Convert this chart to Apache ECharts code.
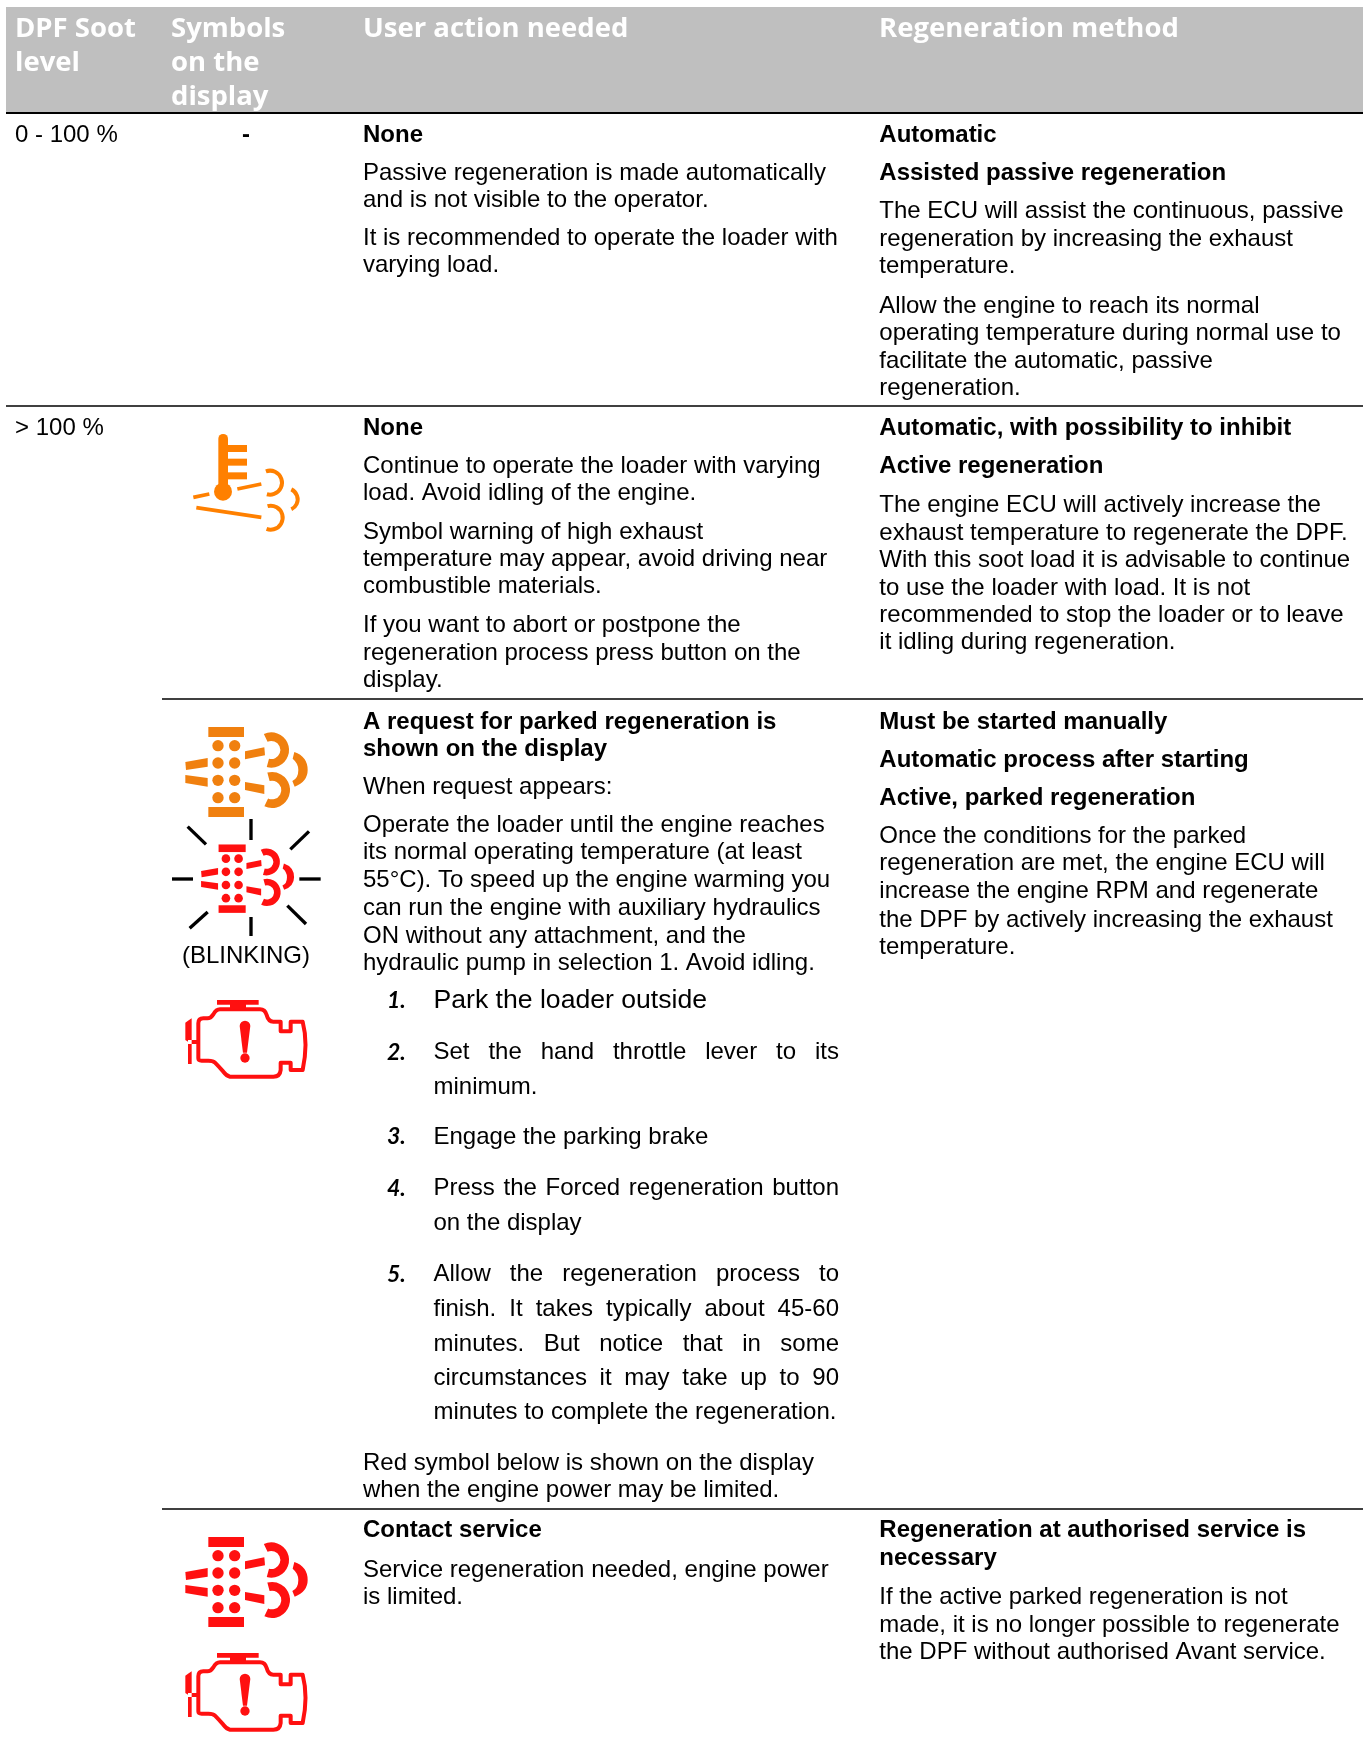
<!DOCTYPE html>
<html><head><meta charset="utf-8">
<style>html,body{margin:0;padding:0;background:#fff}#c{width:1363px;height:1763px}</style>
<script src="https://cdn.jsdelivr.net/npm/echarts@6/dist/echarts.min.js"></script>
</head><body><div id="c"></div>
<script>
// ---- table content ----
var headers = [['DPF Soot','level'],['Symbols','on the','display'],['User action needed'],['Regeneration method']];
var levels = ['0 - 100 %','> 100 %'];
var actionLines = ['None','Passive regeneration is made automatically','and is not visible to the operator.','It is recommended to operate the loader with','varying load.',
'None','Continue to operate the loader with varying','load. Avoid idling of the engine.','Symbol warning of high exhaust','temperature may appear, avoid driving near','combustible materials.','If you want to abort or postpone the','regeneration process press button on the','display.',
'A request for parked regeneration is','shown on the display','When request appears:','Operate the loader until the engine reaches','its normal operating temperature (at least','55°C). To speed up the engine warming you','can run the engine with auxiliary hydraulics','ON without any attachment, and the','hydraulic pump in selection 1. Avoid idling.',
'Red symbol below is shown on the display','when the engine power may be limited.',
'Contact service','Service regeneration needed, engine power','is limited.'];
var actionBold = ['None','A request for parked regeneration is','shown on the display','Contact service'];
var methodLines = ['Automatic','Assisted passive regeneration','The ECU will assist the continuous, passive','regeneration by increasing the exhaust','temperature.','Allow the engine to reach its normal','operating temperature during normal use to','facilitate the automatic, passive','regeneration.',
'Automatic, with possibility to inhibit','Active regeneration','The engine ECU will actively increase the','exhaust temperature to regenerate the DPF.','With this soot load it is advisable to continue','to use the loader with load. It is not','recommended to stop the loader or to leave','it idling during regeneration.',
'Must be started manually','Automatic process after starting','Active, parked regeneration','Once the conditions for the parked','regeneration are met, the engine ECU will','increase the engine RPM and regenerate','the DPF by actively increasing the exhaust','temperature.',
'Regeneration at authorised service is','necessary','If the active parked regeneration is not','made, it is no longer possible to regenerate','the DPF without authorised Avant service.'];
var methodBold = ['Automatic','Assisted passive regeneration','Automatic, with possibility to inhibit','Active regeneration','Must be started manually','Automatic process after starting','Active, parked regeneration','Regeneration at authorised service is','necessary'];
var stepLines = ['Park the loader outside','Set the hand throttle lever to its','minimum.','Engage the parking brake','Press the Forced regeneration button','on the display','Allow the regeneration process to','finish. It takes typically about 45-60','minutes. But notice that in some','circumstances it may take up to 90','minutes to complete the regeneration.'];
var stepNumbers = ['1.','2.','','3.','4.','','5.','','','',''];
var stepJustified = ['Set the hand throttle lever to its','Press the Forced regeneration button','Allow the regeneration process to','finish. It takes typically about 45-60','minutes. But notice that in some','circumstances it may take up to 90'];

// ---- layout (separate from content), in the 1212-wide preview's units ----
var K = 1363/1212, DY = 1.2;
var levelY = [119,380];
var actionY = [119,153,177,211,235,380,414,438,472,496,520,555,580,604,641,665,699,733,757,782,807,832,856,1300,1324,1360,1395,1419];
var methodY = [119,153,187,212,236,271,295,320,344,380,414,448,473,497,522,546,570,641,675,709,743,767,792,817,841,1360,1385,1419,1444,1468];
var stepY = [889,935,966,1010,1056,1087,1132,1163,1194,1225,1255];
var X0=15, XACT=363, XMETH=879.3, XNUM=387, XSTEP=433.5, XRIGHT=839;
var BODY='"Liberation Sans", Arial, sans-serif', HEAD='"Open Sans", sans-serif', FS=24;
var els = [];
var meas = document.createElement('canvas').getContext('2d');

function T(s,x,y,o){o=o||{};
  els.push({type:'text',x:x,y:y+DY,silent:true,z:5,style:{text:s,x:0,y:0,fill:o.fill||'#000',align:o.align||'left',verticalAlign:'middle',
    font:(o.style||'')+' '+(o.weight||'normal')+' '+(o.size||FS)+'px '+(o.family||BODY)}});
}
function justified(s,x,y,right){
  var words=s.split(' '); meas.font='normal '+FS+'px '+BODY;
  var w=words.map(function(a){return meas.measureText(a).width});
  var gap=(right-x-w.reduce(function(a,b){return a+b},0))/(words.length-1), cx=x;
  words.forEach(function(a,i){T(a,cx,y);cx+=w[i]+gap;});
}
// table frame
els.push({type:'rect',shape:{x:6,y:7,width:1357,height:105},style:{fill:'#bfbfbf'},z:1,silent:true});
[[6,113],[6,406],[162,699],[162,1509]].forEach(function(l){
  els.push({type:'line',shape:{x1:l[0],y1:l[1],x2:1363,y2:l[1]},style:{stroke:'#000',lineWidth:l[1]===113?2:1.6},z:2,silent:true});
});
// header
var headX=[15,171,363,879];
headers.forEach(function(h,c){h.forEach(function(s,i){T(s,headX[c],28+i*34,{fill:'#fff',weight:'bold',family:HEAD,size:27.5});});});
// body text
levels.forEach(function(s,i){T(s,X0,levelY[i]*K);});
T('-',246,119*K,{weight:'bold',align:'center'});
actionLines.forEach(function(s,i){T(s,XACT,actionY[i]*K,{weight:actionBold.indexOf(s)>=0?'bold':'normal'});});
methodLines.forEach(function(s,i){T(s,XMETH,methodY[i]*K,{weight:methodBold.indexOf(s)>=0?'bold':'normal'});});
stepLines.forEach(function(s,i){
  var y=stepY[i]*K;
  if(stepJustified.indexOf(s)>=0) justified(s,XSTEP,y,XRIGHT); else T(s,XSTEP,y,{size:i===0?26.6:FS});
  if(stepNumbers[i]) T(stepNumbers[i],XNUM,y,{family:'Lato',weight:'bold',style:'italic',size:23});
});
T('(BLINKING)',246,849*K,{align:'center'});

// ---- icons, drawn in coordinates of a 3x crop ----
var pathCount=0;
function pathEl(d,st){var n='rsPath'+(pathCount++);echarts.graphic.registerShape(n,echarts.graphic.extendPath(d,{}));return {type:n,style:st};}
function G(x,y,s,children){els.push({type:'group',x:x,y:y,scaleX:s,scaleY:s,silent:true,z:6,children:children});}
function R(x,y,w,h,f){return {type:'rect',shape:{x:x,y:y,width:w,height:h},style:{fill:f}};}
function C(x,y,r,f){return {type:'circle',shape:{cx:x,cy:y,r:r},style:{fill:f}};}
function Pg(p,f){return {type:'polygon',shape:{points:p},style:{fill:f}};}
function L(a,b,c,d,col,w){return {type:'line',shape:{x1:a,y1:b,x2:c,y2:d},style:{stroke:col,lineWidth:w}};}
function Arc(cx,cy,r,a0,a1,col,w){return {type:'arc',shape:{cx:cx,cy:cy,r:r,startAngle:a0,endAngle:a1,clockwise:true},style:{stroke:col,lineWidth:w,fill:'none'}};}
function deg(d){return d*Math.PI/180;}

function thermo(x,y,c){
  G(x,y,1/3,[
    {type:'rect',shape:{x:175,y:72,width:29,height:170,r:[14,14,0,0]},style:{fill:c}},
    C(189,245,27,c),R(204,105,57,21,c),R(204,146,57,21,c),R(204,187,57,21,c),
    L(100,262,148,252,c,11),L(232,237,304,222,c,11),L(109,293,304,322,c,11),
    Arc(330,218,36,deg(-110),deg(105),c,12),
    Arc(380,268,33,deg(-65),deg(65),c,12),
    Arc(332,323,36,deg(-105),deg(110),c,12)
  ]);
}
function exhaust(x,y,s,c){
  var ch=[R(145,51,107,30,c),R(145,291,107,30,c)];
  [107,159,211,263].forEach(function(v){ch.push(C(174,v,17,c));ch.push(C(224,v,17,c));});
  ch.push(Pg([[76,156],[143,144],[143,170],[78,180]],c));
  ch.push(Pg([[76,195],[143,204],[143,230],[76,219]],c));
  ch.push(Pg([[255,124],[313,112],[315,136],[255,148]],c));
  ch.push(Pg([[255,216],[313,226],[313,252],[255,240]],c));
  ch.push(Arc(334,120,40,deg(-115),deg(105),c,26));
  ch.push(Arc(336,240,41,deg(-105),deg(115),c,26));
  ch.push(pathEl('M403 126Q443 140 443 180Q443 215 404 230L397 213Q415 205 415 180Q415 160 398 146Z',{fill:c}));
  G(x,y,s/3,ch);
}
function rays(x,y,c){
  var w=10, segs=[[273,327,273,390],[273,621,273,678],[36,507,99,507],[418,507,482,507],[83,350,138,403],[447,364,391,418],[143,606,89,655],[382,587,438,642]];
  G(x,y,1/3,segs.map(function(s){return L(s[0],s[1],s[2],s[3],c,w);}));
}
function engine(x,y,c){
  var body='M115 235L115 130Q115 115 130 115L142 115Q152 115 160 103Q168 88 180 88L300 88Q315 88 320 105Q325 125 340 125L362 125L362 154L392 154L392 125L428 125Q445 190 428 270L392 270L392 248L362 248L362 270Q360 290 340 290L210 290Q200 288 190 275Q175 258 165 248Q160 242 145 242L125 242Q115 242 115 235Z';
  G(x,y,1/3,[
    pathEl(body,{stroke:c,lineWidth:12,fill:'none',lineJoin:'round'}),
    R(171,60,125,14,c),R(210,72,48,16,c),
    Pg([[84,122],[95,115],[95,252],[84,252],[84,192],[115,192],[115,180],[84,180]],c),
    Pg([[76,128],[84,122],[84,185],[76,180]],c),
    pathEl('M239 138A16 16 0 0 1 271 138L261 218L249 218Z',{fill:c}),
    C(255,234,14,c)
  ]);
}
var ORANGE1='#ff8000', ORANGE2='#f0800f', RED='#ff1010';
thermo(160,410,ORANGE1);
exhaust(160,710,1,ORANGE2);
exhaust(160+(216-198*.76)/3,710+(506-186*.76)/3,.76,RED);
rays(160,710,'#000');
engine(160,980,RED);
exhaust(160,1520,1,RED);
engine(160,1633,RED);

var chart = echarts.init(document.getElementById('c'),null,{renderer:'canvas',width:1363,height:1763});
chart.setOption({backgroundColor:'#fff',animation:false,graphic:{elements:els}});
</script></body></html>
